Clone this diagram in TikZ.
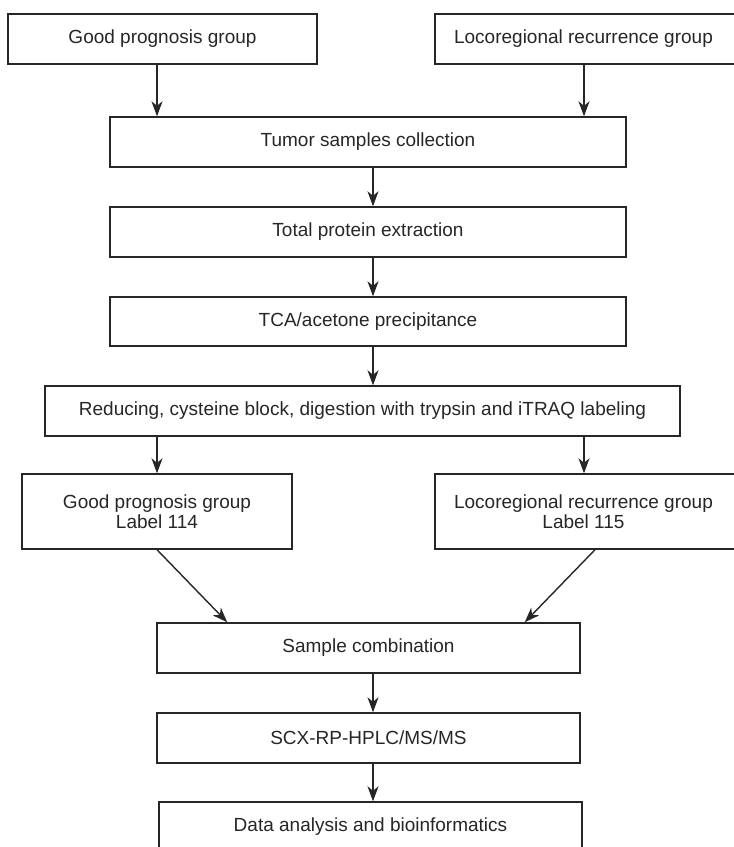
\documentclass[tikz,border=0pt]{standalone}
\usepackage{fontspec}
\setmainfont{Liberation Sans}
\usetikzlibrary{arrows.meta,calc}
\definecolor{ink}{HTML}{262626}
\begin{document}
\begin{tikzpicture}[x=1pt,y=-1pt,
  boxnode/.style={draw=ink,line width=1.4pt,text=ink,rectangle,inner sep=0pt,
    font=\fontsize{19}{22.5}\selectfont,align=center},
  conn/.style={draw=ink,line width=1.4pt,-{Stealth[length=15pt,width=11pt,inset=4.5pt]}}]
\useasboundingbox (0,0) rectangle (734,847);
\coordinate (cx) at (373,0);
\node[boxnode,minimum width=309pt,minimum height=50pt] (b1) at (162.5,39) {Good prognosis group};
\node[boxnode,minimum width=305pt,minimum height=50pt] (b2) at (587.5,39) {\hspace*{-8pt}Locoregional recurrence group};
\node[boxnode,minimum width=516pt,minimum height=50pt] (b3) at (368,142) {Tumor samples collection};
\node[boxnode,minimum width=516pt,minimum height=50pt] (b4) at (368,232) {Total protein extraction};
\node[boxnode,minimum width=516pt,minimum height=49pt] (b5) at (368,321.5) {TCA/acetone precipitance};
\node[boxnode,minimum width=635pt,minimum height=50pt] (b6) at (362.5,411) {Reducing, cysteine block, digestion with trypsin and iTRAQ labeling};
\node[boxnode,minimum width=270pt,minimum height=75pt] (b7) at (157,511.5) {Good prognosis group\\[-2pt]Label 114};
\node[boxnode,minimum width=305pt,minimum height=75pt] (b8) at (587.5,511.5) {\hspace*{-8pt}Locoregional recurrence group\\[-2pt]\hspace*{-8pt}Label 115};
\node[boxnode,minimum width=423pt,minimum height=50pt] (b9) at (368.5,648) {Sample combination};
\node[boxnode,minimum width=423pt,minimum height=50pt] (b10) at (368.5,738) {SCX-RP-HPLC/MS/MS};
\node[boxnode,minimum width=423pt,minimum height=50pt] (b11) at (370.5,827) {Data analysis and bioinformatics};
\draw[conn] (b1.south -| b7.north) -- (b3.north -| b7.north);
\draw[conn] ($(b2.south)+(-3.5,0)$) -- ($(b2.south |- b3.north)+(-3.5,0)$);
\draw[conn] (b3.south -| cx) -- (b4.north -| cx);
\draw[conn] (b4.south -| cx) -- (b5.north -| cx);
\draw[conn] (b5.south -| cx) -- (b6.north -| cx);
\draw[conn] (b6.south -| b7.north) -- (b7.north);
\draw[conn] ($(b6.south -| b8.north)+(-3.5,0)$) -- ($(b8.north)+(-3.5,0)$);
\draw[conn] (b7.south) -- ($(b9.north west)+(71,0)$);
\draw[conn] ($(b8.south)+(7.5,0)$) -- ($(b9.north east)+(-56,0)$);
\draw[conn] (b9.south -| cx) -- (b10.north -| cx);
\draw[conn] (b10.south -| cx) -- (b11.north -| cx);
\end{tikzpicture}
\end{document}
